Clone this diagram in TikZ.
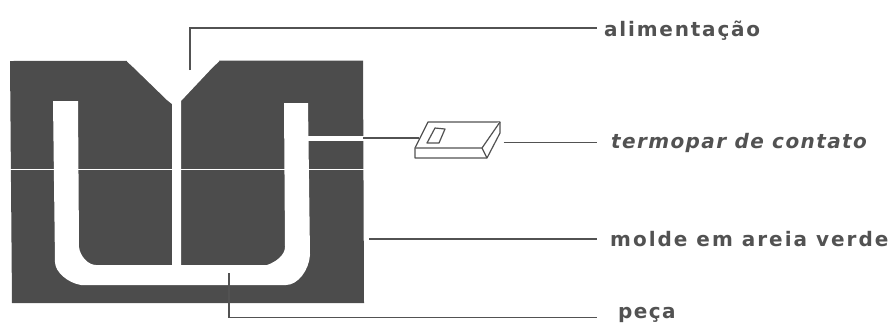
\documentclass[tikz,border=0pt]{standalone}
\usepackage{fontspec}
\setmainfont{DejaVu Sans}
\definecolor{mold}{gray}{0.30}
\definecolor{ink}{gray}{0.32}
\tikzset{
  leader/.style={draw=ink,line width=1.2pt},
  lab/.style={anchor=base west,inner sep=0pt,text=ink},
  tc/.style={draw=ink,line width=1.2pt,line join=round,fill=white}
}
\newcommand{\labfont}[1]{\fontsize{20}{22}\selectfont\bfseries\addfontfeature{LetterSpace=#1}}
\begin{document}
\begin{tikzpicture}[x=1pt,y=-1pt]
\useasboundingbox (0,0) rectangle (896,325);
% mould
\fill[mold] (10,61) -- (363,60.5) -- (364,303) -- (12,303) -- cycle;
% pouring notch and sprue
\fill[white] (127,59) -- (127,61.5) -- (133,67) -- (167,100) -- (172,104) -- (172,265) -- (181,265) -- (181,101) -- (213,67) -- (219,61.5) -- (219,59) -- cycle;
% cavity
\fill[white] (53,101) -- (78,101) -- (79,247) .. controls (80,256) and (88,265) .. (96,265) -- (267,265) .. controls (276,262) and (285,255) .. (285,247) -- (284,103) -- (308,103) -- (310,255) .. controls (309,270) and (298,285) .. (286,285) -- (81,285) .. controls (68,283) and (55,272) .. (55,262) -- cycle;
% parting line and thermocouple slot
\fill[white] (10,168.6) rectangle (365,170.4);
\fill[white] (308,135.5) rectangle (365,140.5);
% labels
\node[lab,font=\labfont{9}] (al) at (604,36) {alimentação};
\node[lab,font=\labfont{7}\itshape] (te) at (611,148) {termopar de contato};
\node[lab,font=\labfont{10}] (mo) at (610,246) {molde em areia verde};
\node[lab,font=\labfont{7}] (pe) at (618,318) {peça};
% thermocouple
\node[inner sep=0pt,minimum width=1pt,minimum height=1pt] (tcl) at (420,138) {};
\node[inner sep=0pt,minimum width=1pt,minimum height=1pt] (tcr) at (503,142.5) {};
\draw[tc] (415,148) -- (428,122) -- (500,122) -- (500,133) -- (487,158) -- (415,158) -- cycle;
\draw[tc] (415,148) -- (482,148) -- (500,122);
\draw[tc] (482,148) -- (487,158);
\draw[tc] (435,128) -- (445,129) -- (439,143) -- (427,143) -- cycle;
% connectors
\coordinate (a0) at (190,70);
\coordinate (a1) at (190,28);
\coordinate (w0) at (363,138);
\coordinate (m0) at (369,239);
\coordinate (p0) at (229,273);
\coordinate (p1) at (229,317.5);
\draw[leader] (a0) -- (a1) -- (597,28);
\draw[leader] (w0) -- (tcl);
\draw[leader] (tcr) -- (597,142.5);
\draw[leader] (m0) -- (597,239);
\draw[leader] (p0) -- (p1) -- (597,317.5);
\end{tikzpicture}
\end{document}
